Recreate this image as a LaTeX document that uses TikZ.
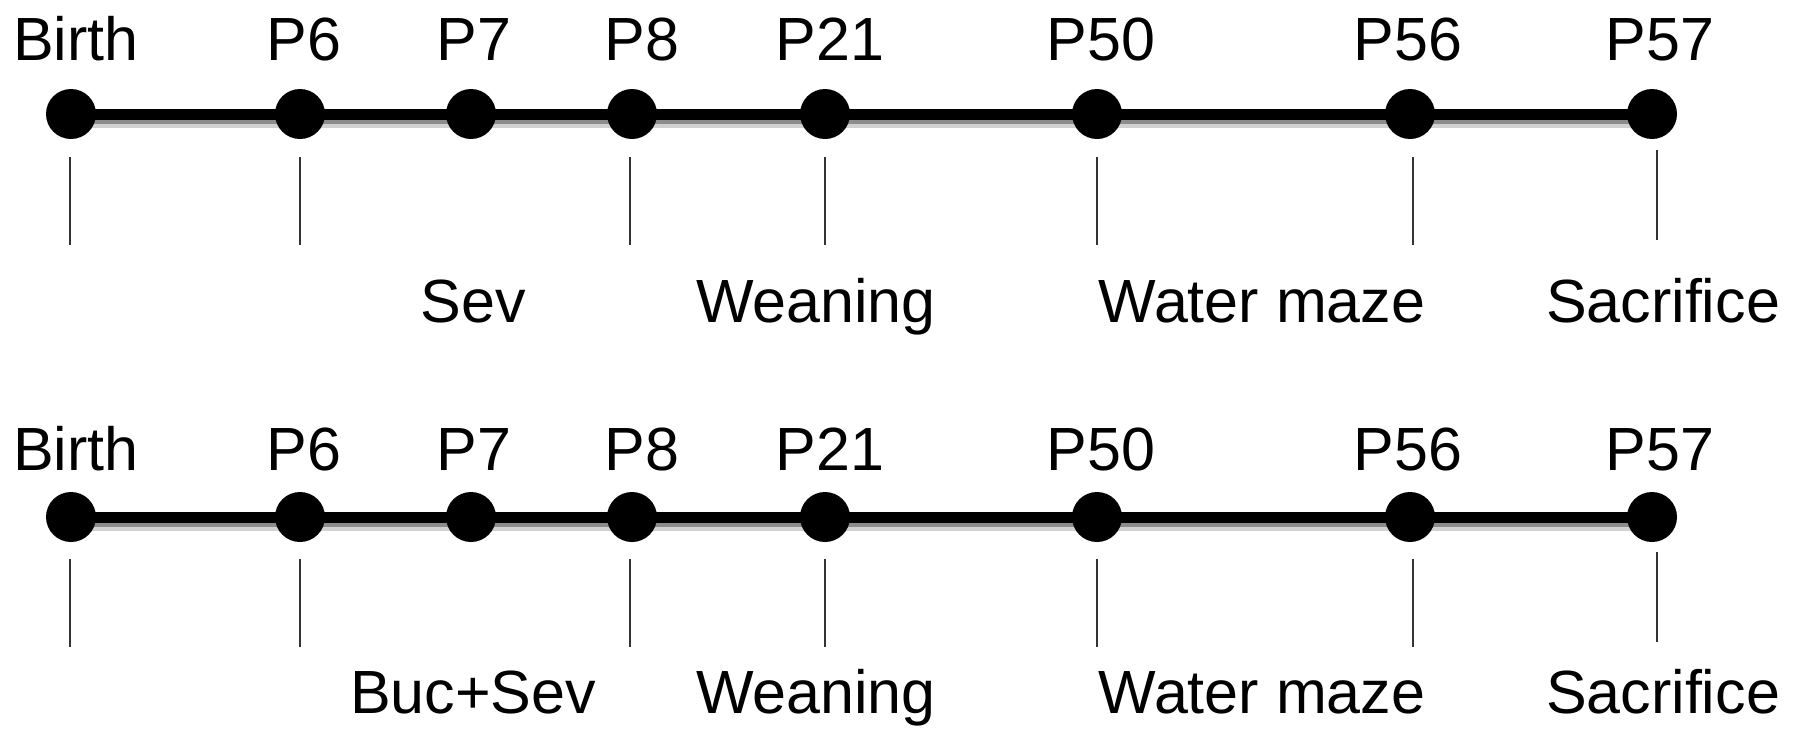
\documentclass[tikz,border=0pt]{standalone}
\usepackage{fontspec}
\setmainfont{Liberation Sans}
\usetikzlibrary{backgrounds}
\begin{document}
\begin{tikzpicture}[x=1pt,y=-1pt,
  dot/.style={circle,fill=black,inner sep=0pt,minimum size=50pt},
  lbl/.style={anchor=base,font=\fontsize{61}{61}\selectfont,inner sep=0pt},
  bar/.style={line width=11pt,black},
  shadeA/.style={line width=6pt,black!45},
  shadeB/.style={line width=6pt,black!18},
  tickline/.style={line width=2.5pt,black!80}]
\useasboundingbox (0,0) rectangle (1795,742);
\foreach \i/\x/\lx/\t in {0/71/76/Birth,1/300/304/P6,2/471/474/P7,3/632/642/P8,4/825/830/P21,5/1097/1101/P50,6/1410/1408/P56,7/1652/1660/P57}{
  \node[dot] (a\i) at (\x,114) {};
  \node[lbl] (la\i) at (\lx,60) {\t};
  \node[dot] (b\i) at (\x,517) {};
  \node[lbl] (lb\i) at (\lx,470) {\t};
}
\begin{scope}[on background layer]
  \draw[shadeB] ([yshift=-11pt]a0.center) -- ([yshift=-11pt]a7.center);
  \draw[shadeA] ([yshift=-7pt]a0.center) -- ([yshift=-7pt]a7.center);
  \draw[bar] (a0.center) -- (a7.center);
  \draw[shadeB] ([yshift=-11pt]b0.center) -- ([yshift=-11pt]b7.center);
  \draw[shadeA] ([yshift=-7pt]b0.center) -- ([yshift=-7pt]b7.center);
  \draw[bar] (b0.center) -- (b7.center);
\end{scope}
\foreach \x in {70,300,630,825,1097,1413}{
  \draw[tickline] (\x,157) -- (\x,245);
  \draw[tickline] (\x,559) -- (\x,647);
}
\draw[tickline] (1657,150) -- (1657,240);
\draw[tickline] (1657,552) -- (1657,642);
\node[lbl] (s1) at (473,322) {Sev};
\node[lbl] (w1) at (816,322) {Weaning};
\node[lbl] (m1) at (1262,322) {Water maze};
\node[lbl] (f1) at (1663,322) {Sacrifice};
\node[lbl] (s2) at (473,713) {Buc+Sev};
\node[lbl] (w2) at (816,713) {Weaning};
\node[lbl] (m2) at (1262,713) {Water maze};
\node[lbl] (f2) at (1663,713) {Sacrifice};
\end{tikzpicture}
\end{document}
